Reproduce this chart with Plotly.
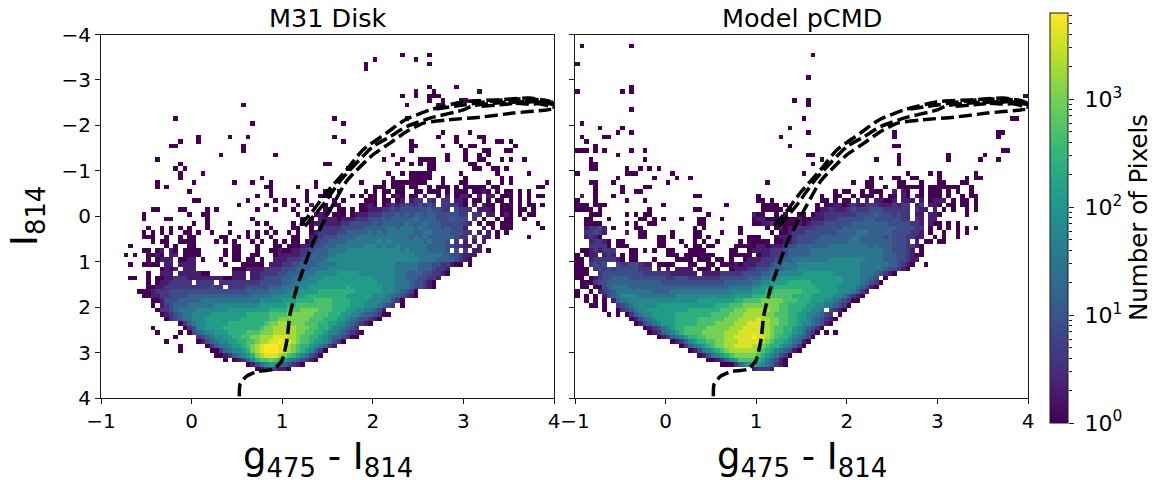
import math
import plotly.graph_objects as go

# counts per histogram cell
LEVEL_KEYS = "123456789abcde"
LEVEL_COUNTS = [1, 2, 4, 8, 15, 30, 60, 120, 250, 500, 1000, 2000, 4000, 6300]
COLOR_BINS = 100
MAG_BINS = 80

# isolated single-count cells: magnitude row -> colour columns
M31_SPARSE = {
    4: [66, 72], 5: [60, 69], 6: [58, 72], 7: [58], 11: [72, 78], 12: [69, 73, 83],
    13: [72, 66, 69, 73, 74], 14: [72, 75, 79, 80], 15: [31, 67, 74, 75],
    18: [16, 51, 67], 19: [33, 53], 21: [75, 81],
    22: [21, 28, 32, 51, 74, 78, 83, 84], 23: [21, 17, 53, 68, 78, 84, 87, 88, 90],
    24: [15, 16, 31, 69, 75, 68, 81, 82, 79, 91], 25: [31, 84, 85, 68, 89, 90, 80],
    26: [26, 38, 64, 76, 83, 85, 80], 27: [12, 62, 66, 70, 71, 72, 73, 76, 83, 84, 93, 88, 90, 80],
    28: [17, 49, 50, 65, 68, 70, 72, 73, 81, 82, 85], 29: [16, 18, 54, 72, 73, 82, 83, 86, 87, 89],
    30: [17, 22, 63, 66, 68, 69, 70, 71, 72, 79, 87, 94],
    31: [17, 35, 64, 68, 69, 70, 71, 72, 75, 80, 88, 90],
    32: [12, 20, 29, 33, 37, 47, 57, 62, 64, 65, 66, 67, 68, 69, 70, 71, 75, 79, 80, 85, 88, 90, 98],
    33: [12, 14, 36, 37, 43, 47, 60, 61, 62, 64, 65, 66, 68, 69, 72, 74, 75, 76, 78, 80, 81, 82, 83, 84, 86, 87, 96, 97],
}
MODEL_SPARSE = {
    2: [1, 12], 4: [52], 6: [0], 9: [51], 11: [12], 12: [0, 10, 12], 13: [99], 14: [48, 51],
    15: [51], 16: [12], 18: [50, 96, 97], 19: [1], 20: [5, 10, 47], 21: [9, 12, 70, 93, 94, 51],
    22: [1, 6, 7, 45, 70, 93], 23: [2], 24: [47, 70, 71, 4],
    25: [0, 1, 2, 4, 6, 12, 15, 94, 95], 26: [9, 51, 52, 71, 82, 90],
    27: [3, 15, 54, 66, 71, 82, 89, 93], 28: [3, 4, 52, 71], 29: [11, 3, 4, 14, 16, 18],
    30: [0, 11, 12, 13, 21, 50, 73, 78, 80, 88],
    31: [9, 17, 22, 25, 65, 67, 70, 71, 74, 75, 80, 86, 88, 89],
    32: [3, 4, 8, 20, 42, 61, 64, 65, 71, 72, 76, 80, 81, 85, 86],
}

# dense rows: ten-column chunks, "-" = empty chunk, "." = empty cell
M31_ROWS = {
    34: "- .........1 - .......1.. .....1...1 1.1.....1. 1.11.11..1 1.111.1.11 1.1121.1.1 1.1.1.....",
    35: "- - - ....1..1.. .....1..11 1....1.1.1 1.1.121.11 .2..1.2.12 21.2.22.11 1.1.1.11..",
    36: "- - 11........ ..1.....1. 1.1..1.... .1.1....11 1.11.12.23 3.32.33.22 1.11.1.11. 1.1.1.....",
    37: "- - - 1.....1... 1..1..2..1 .11....112 1.12323433 4343.33332 1.2.211.11 1.1.11.1..",
    38: "- .11....11. ...1.1.... ....1...1. ..1..1...1 1.11.1.112 2233434444 4454433.43 33.2221.11 1.11.1....",
    39: ".........1 .........1 ..11...... - ...1...121 .111.12223 3344454545 5455444443 3.33.22.12 1.1.11....",
    40: ".........1 ....11.... ...1...... ...1...... ....1.1.22 2212223334 4454555556 5555444544 4.3.1..1.1 1..1......",
    41: "- - 1..1....1. ....1.1... ..1.1.1222 2223344444 5455555655 5655544444 32.1.11.11 1.....1...",
    42: "- 1..1.1.1.1 ...1...... .......1.. ..11..1.23 3334444455 5556656665 6555545444 2...2.1.11 1......1..",
    43: ".........1 .1.1.1..11 .1..1...1. ..1.1.1.1. .1.1..1233 3344555556 5656666665 5665555444 33.2.2.1.1",
    44: ".........1 11..1..1.1 1.....11.. 1.1.1..1.. ..11..2334 4455556666 6666666656 5655555543 3.3.22.1.. ....1.....",
    45: "- .1.11..111 1....1.1.1 ...1.1..1. 1.11.12344 5555666666 6767666666 6565554.3. 2.2.2.....",
    46: "......1... ....1.1..1 1........1 1...1...11 .111223445 5566666677 7676676666 6655554433 22.2......",
    47: ".........1 1.12.21.11 11.....1.1 1...1..112 1122334555 6666777777 7777776766 6655554.4. 3.22.1....",
    48: ".....1.1.. 1121.22.11 11.....1.1 1..11...12 2222345555 6677777777 7777777776 6666655443 222.......",
    49: "- 1.1222.112 2.1...1..1 1.11.1..22 2333445556 7777777777 7777777777 6666555543 21........",
    50: "......1..1 111.22.222 2......1.. .11111.222 3344555566 6677777777 7777766666 5554433211 .1........",
    51: "- ...1212.22 2........1 1122223333 4445556666 7777777777 7777766666 5554332...",
    52: "- 1..222.222 2211.....2 22.2233334 4555666777 7788888777 7777766555 5443321...",
    53: "......11.. 1.11223332 2222222112 22.2234444 5566667778 8888888888 7777766555 44332.....",
    54: "- 1.12233333 .3333.3333 3333344444 5566777788 8888888888 8777766654 4321......",
    55: "- 1122333333 3333433.33 3344444555 6667778888 8888988888 8877766654 4321......",
    56: "........11 1233344444 4444444444 4455555666 6777888899 9999998888 8877765431",
    57: ".........1 1223344445 5555555555 5556666677 7788899999 9999888888 7776654321",
    58: "- .112444555 5566666666 6666677777 8889999aaa a999988887 7766431...",
    59: "- .1.2345556 6666677777 7777788888 899aaaaaaa a999988877 76543.1...",
    60: "- ..13345666 6777777788 8888888999 9aaabbbbaa a999887766 542.......",
    61: "- ...1234566 7777888888 8899999aaa abbbbbbaaa 9998877655 4311......",
    62: "- ....134566 7778888888 8999999aab bbbbbbaaa9 9988765443 21........",
    63: "- .......135 6778888899 999999abbc ccbbbaaa99 8877654321",
    64: "- .1......13 4778888999 99999abbcc cccbbbaa99 8776543...",
    65: "- ..1....1.1 4567788899 99aaabbbcc cccbbaa998 77654321..",
    66: "- ......1... .345677889 9aabbcccdd dccbaa9987 6554311...",
    67: "- ....1..... .124567788 99aabccdde ddcbaa9887 6431......",
    68: "- .......1.. ...1356678 89abcdeeed dcba998765 32........",
    69: "- .......1.. ....113567 789bcdeeed dcba987531",
    70: "- - .....11235 6789bcdddc ba9876431.",
    71: "- - .......1.1 23579aaba9 87654321..",
    72: "- - - ..12467886 54321.....",
    73: "- - - ....123432 21........",
}
MODEL_ROWS = {
    33: "....1..... 1....11... - - - - ....11..1. .111111.11 11111..1.. -",
    34: "....1..... 1..11..... - - - .......1.1 1..1.111.. 2.21..1.11 1.1.1..1.. -",
    35: ".2..1...1. - ......11.. - 1......... ....1..11. .1.111.1.1 1.21.21.11 1.1..1.11. -",
    36: "1...1..... .1...1.... - - 11.1...... ....11.1.1 1.2.2.2211 2.222.2.12 22.1.11.1. -",
    37: "111.111... .........1 - ...1...... .1111.1... ...1.11221 2322333222 3233.23.22 1.11.11.1. -",
    38: "1111.1.... ......1... ......11.. - .11111.1.. ...1223222 3433344433 3333.322.2 .1.1..1.1. -",
    39: "...111.... .1.1.11... .........1 .........2 11..1.1..1 1.12233333 3344445444 3433.22.22 1.....1... -",
    40: "..11...1.. ....11.1.1 ...1...11. ..1......1 2211111112 1122233344 4444554444 4433.32.22",
    41: "..1111.... .1.1..11.. .......11. .........1 1223121112 1233344444 4555555554 4444332.21 1.1.1.....",
    42: "..23342.1. ...11..... ......1.1. ......1... ..1.121223 3334444445 5555555555 5444433.1. 1.1.1.1.1.",
    43: "..33432... .2..11.... .1....11.. ..1...1... ...1.11233 3444444455 5566655555 4444332.1. .1..1.1...",
    44: "..2321.... ....11..11 .1....11.1 ........11 1...122334 4444555555 5665555545 4443322..1 .1..1.....",
    45: "...23321.1 1.......11 ...1..1.1. .1....1.11 111.112234 4445555555 6665555555 4443.2.11. 11........",
    46: "...33331.1 11......11 ....1.11.1 1....11111 2212223445 5555556666 6666656555 4443321...",
    47: ".11232333. ..11.1.1.. 11...1111. ....11..12 2223334555 5566666666 6666666655 44432.1...",
    48: "1.122.232. 1.11...... 111.111111 1...11111. 1223344555 5566666666 6666666655 5443211...",
    49: "11.2333332 1.11...1.. ..1111.111 .11.1..122 2333455566 6666667777 7777666655 544322....",
    50: "11.3434..4 3344322.11 11...11..1 1.11121222 3334556667 7777777777 7776666665 54321..1..",
    51: "111.343434 4444333.2. 2.2222.111 .1..122233 4445556667 7777777777 7776666654 4321......",
    52: "111..34444 4444433333 3222222.22 2233333444 4556677777 8888888777 7776665432 1.........",
    53: "11.1234455 5544444444 3344433333 3344444455 5667788888 8888888887 7776654.1.",
    54: ".111344555 5555555554 4444444444 4445555556 6778888999 9988888887 77765431..",
    55: ".11.114566 6655555555 5555555555 5555666667 7888999999 9998888877 7765421...",
    56: "1..1.23456 6666666555 5666666666 6666777778 8899aaaaaa 9999888877 76532.....",
    57: "1.1.1.2456 7777666666 6677777777 7777788889 99aaaaaa99 9988888776 4321......",
    58: "..1.1.1.25 6677777777 7777777888 8888899aaa abbbbbaaa9 9988877654 311.......",
    59: "...11.1..3 4567777788 8888888888 8999aaabbb bbbbbaa999 9887766543 1.........",
    60: "......1..1 3456778888 8888899999 99aaabbbcc cccbbaa999 88776.4321",
    61: ".......1.1 .135677888 8899999999 aaaabbbccc ccbbaaa998 8776543.1.",
    62: "- ..12456788 8899999aaa aaabbbcccc dccbbaa998 87654321..",
    63: "- ...1245678 8899999aaa abbbbcccdd dccbbaa998 7765421...",
    64: "- .....12346 7899aaaaab bbbbcccddd dccbaa9987 65431.....",
    65: "- ......1235 6789aaaabb bbbcccdddd dccbaa9987 6431.1.1..",
    66: "- ........12 3567899aab bbbccdddde ddcba99876 541.......",
    67: "- - .12357899a abbcccdddd dcba998765 21........",
    68: "- - ...1356789 abbccddddc cba9987653 1.........",
    69: "- - .....12467 89abcccccc ba98765421",
    70: "- - .......124 6789abbbbb a9876431..",
    71: "- - .........1 123578aaaa 9865421...",
    72: "- - - ..11135789 8765321...",
    73: "- - - .........2 3332......",
}

# isochrone tracks (colour, magnitude)
TRACK_A_X = [0.527, 0.535, 0.608, 0.72, 0.90, 0.994, 1.05, 1.086, 1.16, 1.23, 1.34, 1.44, 1.56, 1.71, 1.86, 2.0, 2.19, 2.37, 2.56, 2.81, 3.18, 3.55, 3.92, 4.0]
TRACK_A_Y = [3.96, 3.70, 3.52, 3.42, 3.37, 3.19, 2.75, 2.16, 1.58, 1.18, 0.58, 0.19, -0.25, -0.77, -1.09, -1.35, -1.61, -1.86, -2.05, -2.12, -2.18, -2.27, -2.34, -2.36]
TRACK_B_X = [1.20, 1.33, 1.50, 1.71, 1.89, 2.15, 2.355, 2.63, 3.0, 3.37, 3.73, 3.98, 3.75, 3.5]
TRACK_B_Y = [0.20, -0.10, -0.55, -1.02, -1.46, -1.83, -2.12, -2.34, -2.52, -2.56, -2.60, -2.52, -2.47, -2.5]
TRACK_C_X = [1.25, 1.45, 1.65, 2.0, 2.19, 2.37, 2.65, 3.0, 3.1, 3.4, 3.8, 4.0]
TRACK_C_Y = [0.22, -0.25, -0.80, -1.53, -1.75, -1.97, -2.17, -2.34, -2.43, -2.50, -2.52, -2.46]
TRACK_D_X = [2.7, 3.0, 3.3, 3.6, 3.9, 4.0]
TRACK_D_Y = [-2.36, -2.45, -2.53, -2.58, -2.55, -2.45]
TRACK_E_X = [3.2, 3.5, 3.75, 3.95, 4.0]
TRACK_E_Y = [-2.42, -2.47, -2.52, -2.42, -2.40]

TITLES = ["M31 Disk", "Model pCMD"]
MAG_TICKS = [-4, -3, -2, -1, 0, 1, 2, 3, 4]
COLOR_TICKS = [-1, 0, 1, 2, 3, 4]
BAR_MAJOR = [1, 10, 100, 1000]
BAR_MINOR = [2, 3, 4, 5, 6, 7, 8, 9, 20, 30, 40, 50, 60, 70, 80, 90, 200, 300, 400, 500, 600, 700, 800, 900, 2000, 3000, 4000, 5000, 6000]
BAR_MAX = 6300
FONT = "DejaVu Sans"
INK = "#1a1a1a"
W, H = 1158, 480
ML, MR, MT, MB = 70, 70, 8, 50
PW, PH = W - ML - MR, H - MT - MB


def px(x):
    return (x - ML) / PW


def py(y):
    return 1 - (y - MT) / PH


def decode(sparse, rows):
    grid = [[None] * COLOR_BINS for _ in range(MAG_BINS)]
    for r, cols in sparse.items():
        for c in cols:
            grid[r][c] = 0.0
    for r, text in rows.items():
        for i, chunk in enumerate(text.split()):
            if chunk == "-":
                continue
            for j, ch in enumerate(chunk):
                if ch != ".":
                    grid[r][10 * i + j] = math.log10(LEVEL_COUNTS[LEVEL_KEYS.index(ch)])
    return grid


fig = go.Figure()
tracks = [(TRACK_A_X, TRACK_A_Y), (TRACK_B_X, TRACK_B_Y), (TRACK_C_X, TRACK_C_Y), (TRACK_D_X, TRACK_D_Y), (TRACK_E_X, TRACK_E_Y)]
for n, (sparse, rows) in enumerate([(M31_SPARSE, M31_ROWS), (MODEL_SPARSE, MODEL_ROWS)], start=1):
    ax = dict(xaxis="x" if n == 1 else "x2", yaxis="y" if n == 1 else "y2")
    fig.add_trace(go.Heatmap(z=decode(sparse, rows), x0=-0.975, dx=0.05, y0=-3.95, dy=0.1,
                             coloraxis="coloraxis", hoverongaps=False, **ax))
    for xs, ys in tracks:
        fig.add_trace(go.Scatter(x=xs, y=ys, mode="lines", showlegend=False,
                                 line=dict(color="black", width=3.5, dash="13px,5px", shape="spline", smoothing=0.6), **ax))
# carrier for the colour bar's log axis
fig.add_trace(go.Scatter(x=[0, 0, 0, 0], y=BAR_MAJOR, mode="lines", line=dict(width=0), showlegend=False,
                         hoverinfo="skip", xaxis="x3", yaxis="y3"))

axis_style = dict(showline=True, linecolor=INK, linewidth=1, mirror=True, ticks="outside", ticklen=5,
                  tickwidth=1, tickcolor=INK, showgrid=False, zeroline=False, automargin=False,
                  tickfont=dict(family=FONT, size=20, color="black"))
xticks = dict(range=[-1, 4], tickmode="array", tickvals=COLOR_TICKS,
              ticktext=[str(v).replace("-", "\u2212") for v in COLOR_TICKS], **axis_style)
ydomain = [py(398), py(34.5)]
yticks = dict(range=[4, -4], tickmode="array", tickvals=MAG_TICKS, domain=ydomain, **axis_style)

annotations = [dict(x=px(x), y=py(18), xref="paper", yref="paper", text=t, showarrow=False,
                    font=dict(family=FONT, size=25.5, color="black"), xanchor="center", yanchor="middle")
               for x, t in zip([327.5, 801.5], TITLES)]
annotations += [dict(x=px(x), y=py(459), xref="paper", yref="paper", text="g<sub>475</sub> - I<sub>814</sub>", showarrow=False,
                     font=dict(family=FONT, size=37, color="black"), xanchor="center", yanchor="middle")
                for x in [327.5, 801.5]]
annotations.append(dict(x=px(27), y=py(216), xref="paper", yref="paper", text="I<sub>814</sub>", textangle=-90, showarrow=False,
                        font=dict(family=FONT, size=37, color="black"), xanchor="center", yanchor="middle"))
annotations.append(dict(x=px(1139), y=py(218), xref="paper", yref="paper", text="Number of Pixels", textangle=-90,
                        showarrow=False, font=dict(family=FONT, size=24.5, color="black"), xanchor="center", yanchor="middle"))

fig.update_layout(
    width=W, height=H, margin=dict(l=ML, r=MR, t=MT, b=MB), paper_bgcolor="white", plot_bgcolor="white",
    showlegend=False, annotations=annotations,
    xaxis=dict(domain=[px(101), px(554)], anchor="y", **xticks),
    xaxis2=dict(domain=[px(575), px(1028)], anchor="y2", **xticks),
    yaxis=dict(anchor="x", ticktext=[str(v).replace("-", "\u2212") for v in MAG_TICKS], **yticks),
    yaxis2=dict(anchor="x2", showticklabels=False, **yticks),
    xaxis3=dict(domain=[px(1050), px(1068)], anchor="y3", visible=False, range=[-1, 1]),
    yaxis3=dict(domain=[py(423), py(13)], anchor="x3", type="log", range=[0, math.log10(BAR_MAX)], side="right",
                showgrid=False, zeroline=False, automargin=False, showline=False,
                ticks="outside", ticklen=5, tickwidth=1, tickcolor=INK, tickmode="array", tickvals=BAR_MAJOR,
                ticktext=["10<sup>%d</sup>" % round(math.log10(v)) for v in BAR_MAJOR], ticklabelstandoff=6,
                tickfont=dict(family=FONT, size=22, color="black"),
                minor=dict(ticks="outside", ticklen=3, tickwidth=1, tickcolor=INK, tickmode="array", tickvals=BAR_MINOR, showgrid=False)),
    coloraxis=dict(colorscale="Viridis", cmin=0, cmax=math.log10(BAR_MAX),
                   colorbar=dict(x=px(1050), xanchor="left", xpad=0, y=py(218), yanchor="middle", ypad=0,
                                 thickness=18, thicknessmode="pixels", len=410, lenmode="pixels",
                                 outlinewidth=1, outlinecolor=INK, ticks="", showticklabels=False)),
)
fig.write_html("out.html", config=dict(displayModeBar=False),
               post_script="document.body.style.margin='0';document.documentElement.style.overflow='hidden';")
